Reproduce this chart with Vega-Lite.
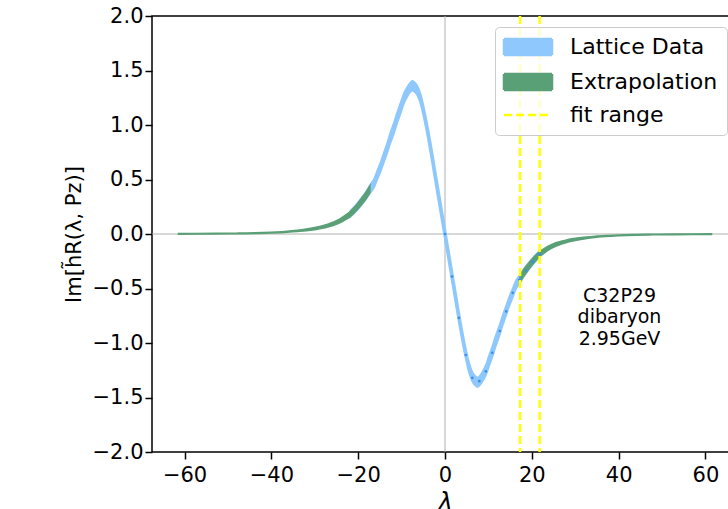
{
  "$schema": "https://vega.github.io/schema/vega-lite/v6.json",
  "width": 586,
  "height": 436,
  "autosize": {"type": "none"},
  "padding": {"left": 152, "top": 16, "right": 0, "bottom": 57},
  "background": "white",
  "config": {
    "view": {"stroke": "black", "strokeWidth": 1.5},
    "font": "DejaVu Sans",
    "axis": {
      "labelFont": "DejaVu Sans", "labelFontSize": 21, "labelColor": "black",
      "tickColor": "black", "tickWidth": 1.5, "tickSize": 7,
      "domain": false, "grid": false, "labelOverlap": false,
      "titleFont": "DejaVu Sans", "titleColor": "black", "titleFontWeight": "normal"
    }
  },
  "datasets": {
    "blue": [
      {"lam": -21.8, "lo": 0.155, "hi": 0.215}, {"lam": -21, "lo": 0.183, "hi": 0.247},
      {"lam": -20, "lo": 0.226, "hi": 0.294}, {"lam": -19, "lo": 0.274, "hi": 0.346},
      {"lam": -18, "lo": 0.327, "hi": 0.403}, {"lam": -17.3, "lo": 0.37, "hi": 0.45},
      {"lam": -16.3, "lo": 0.428, "hi": 0.512}, {"lam": -15.6, "lo": 0.496, "hi": 0.584},
      {"lam": -14.8, "lo": 0.574, "hi": 0.666}, {"lam": -14.1, "lo": 0.652, "hi": 0.748},
      {"lam": -13.3, "lo": 0.74, "hi": 0.84}, {"lam": -12.6, "lo": 0.828, "hi": 0.932},
      {"lam": -11.7, "lo": 0.927, "hi": 1.033}, {"lam": -10.9, "lo": 1.027, "hi": 1.133},
      {"lam": -10.1, "lo": 1.118, "hi": 1.222}, {"lam": -9.4, "lo": 1.2, "hi": 1.3},
      {"lam": -8.6, "lo": 1.263, "hi": 1.357}, {"lam": -7.9, "lo": 1.305, "hi": 1.395},
      {"lam": -7.5, "lo": 1.315, "hi": 1.405}, {"lam": -7.1, "lo": 1.305, "hi": 1.395},
      {"lam": -6.3, "lo": 1.264, "hi": 1.356}, {"lam": -5.5, "lo": 1.17, "hi": 1.27},
      {"lam": -4.8, "lo": 1.046, "hi": 1.154}, {"lam": -4, "lo": 0.882, "hi": 0.998},
      {"lam": -3.2, "lo": 0.698, "hi": 0.822}, {"lam": -2.4, "lo": 0.505, "hi": 0.635},
      {"lam": -1.6, "lo": 0.315, "hi": 0.445}, {"lam": -0.8, "lo": 0.125, "hi": 0.255},
      {"lam": 0, "lo": -0.065, "hi": 0.065},
      {"lam": 0.8, "lo": -0.255, "hi": -0.125}, {"lam": 1.6, "lo": -0.445, "hi": -0.315},
      {"lam": 2.4, "lo": -0.635, "hi": -0.505}, {"lam": 3.2, "lo": -0.822, "hi": -0.698},
      {"lam": 4, "lo": -0.998, "hi": -0.882}, {"lam": 4.8, "lo": -1.154, "hi": -1.046},
      {"lam": 5.5, "lo": -1.27, "hi": -1.17}, {"lam": 6.3, "lo": -1.356, "hi": -1.264},
      {"lam": 7.1, "lo": -1.395, "hi": -1.305}, {"lam": 7.5, "lo": -1.405, "hi": -1.315},
      {"lam": 7.9, "lo": -1.395, "hi": -1.305}, {"lam": 8.6, "lo": -1.357, "hi": -1.263},
      {"lam": 9.4, "lo": -1.3, "hi": -1.2}, {"lam": 10.1, "lo": -1.222, "hi": -1.118},
      {"lam": 10.9, "lo": -1.133, "hi": -1.027}, {"lam": 11.7, "lo": -1.033, "hi": -0.927},
      {"lam": 12.6, "lo": -0.932, "hi": -0.828}, {"lam": 13.3, "lo": -0.84, "hi": -0.74},
      {"lam": 14.1, "lo": -0.748, "hi": -0.652}, {"lam": 14.8, "lo": -0.666, "hi": -0.574},
      {"lam": 15.6, "lo": -0.584, "hi": -0.496}, {"lam": 16.3, "lo": -0.512, "hi": -0.428},
      {"lam": 17.3, "lo": -0.45, "hi": -0.37}, {"lam": 18, "lo": -0.403, "hi": -0.327},
      {"lam": 19, "lo": -0.346, "hi": -0.274}, {"lam": 20, "lo": -0.294, "hi": -0.226},
      {"lam": 21, "lo": -0.247, "hi": -0.183}, {"lam": 21.8, "lo": -0.215, "hi": -0.155}
    ],
    "green": [
      {"side": "left", "lam": -61.4, "lo": -0.002, "hi": 0.004},
      {"side": "left", "lam": -57, "lo": -0.001, "hi": 0.005},
      {"side": "left", "lam": -53, "lo": 0.0, "hi": 0.006},
      {"side": "left", "lam": -48, "lo": 0.002, "hi": 0.008},
      {"side": "left", "lam": -44, "lo": 0.005, "hi": 0.011},
      {"side": "left", "lam": -40, "lo": 0.009, "hi": 0.017},
      {"side": "left", "lam": -37, "lo": 0.014, "hi": 0.024},
      {"side": "left", "lam": -34, "lo": 0.023, "hi": 0.035},
      {"side": "left", "lam": -32, "lo": 0.030, "hi": 0.046},
      {"side": "left", "lam": -30, "lo": 0.040, "hi": 0.060},
      {"side": "left", "lam": -28, "lo": 0.054, "hi": 0.078},
      {"side": "left", "lam": -27, "lo": 0.064, "hi": 0.090},
      {"side": "left", "lam": -26, "lo": 0.075, "hi": 0.105},
      {"side": "left", "lam": -25, "lo": 0.088, "hi": 0.122},
      {"side": "left", "lam": -24, "lo": 0.106, "hi": 0.144},
      {"side": "left", "lam": -23, "lo": 0.129, "hi": 0.171},
      {"side": "left", "lam": -21.8, "lo": 0.161, "hi": 0.209},
      {"side": "left", "lam": -21, "lo": 0.190, "hi": 0.240},
      {"side": "left", "lam": -20, "lo": 0.233, "hi": 0.287},
      {"side": "left", "lam": -19, "lo": 0.281, "hi": 0.339},
      {"side": "left", "lam": -18, "lo": 0.334, "hi": 0.396},
      {"side": "left", "lam": -17.3, "lo": 0.378, "hi": 0.442},
      {"side": "right", "lam": 17.3, "lo": -0.442, "hi": -0.378},
      {"side": "right", "lam": 18, "lo": -0.396, "hi": -0.334},
      {"side": "right", "lam": 19, "lo": -0.339, "hi": -0.281},
      {"side": "right", "lam": 20, "lo": -0.287, "hi": -0.233},
      {"side": "right", "lam": 21, "lo": -0.240, "hi": -0.190},
      {"side": "right", "lam": 21.8, "lo": -0.209, "hi": -0.161},
      {"side": "right", "lam": 23, "lo": -0.171, "hi": -0.129},
      {"side": "right", "lam": 24, "lo": -0.144, "hi": -0.106},
      {"side": "right", "lam": 25, "lo": -0.122, "hi": -0.088},
      {"side": "right", "lam": 26, "lo": -0.105, "hi": -0.075},
      {"side": "right", "lam": 27, "lo": -0.090, "hi": -0.064},
      {"side": "right", "lam": 28, "lo": -0.078, "hi": -0.054},
      {"side": "right", "lam": 30, "lo": -0.060, "hi": -0.040},
      {"side": "right", "lam": 32, "lo": -0.046, "hi": -0.030},
      {"side": "right", "lam": 34, "lo": -0.035, "hi": -0.023},
      {"side": "right", "lam": 37, "lo": -0.024, "hi": -0.014},
      {"side": "right", "lam": 40, "lo": -0.017, "hi": -0.009},
      {"side": "right", "lam": 44, "lo": -0.011, "hi": -0.005},
      {"side": "right", "lam": 48, "lo": -0.008, "hi": -0.002},
      {"side": "right", "lam": 53, "lo": -0.006, "hi": 0.0},
      {"side": "right", "lam": 57, "lo": -0.005, "hi": 0.001},
      {"side": "right", "lam": 61.4, "lo": -0.004, "hi": 0.002}
    ],
    "dots": [
      {"lam": 0, "val": 0}, {"lam": 1.6, "val": -0.39}, {"lam": 3.2, "val": -0.77},
      {"lam": 4.8, "val": -1.11}, {"lam": 6.3, "val": -1.32}, {"lam": 7.9, "val": -1.35},
      {"lam": 9.4, "val": -1.26}, {"lam": 10.9, "val": -1.09}, {"lam": 12.6, "val": -0.89},
      {"lam": 14.1, "val": -0.71}, {"lam": 15.6, "val": -0.54}, {"lam": 17.1, "val": -0.42},
      {"lam": 18.7, "val": -0.335}, {"lam": 20.2, "val": -0.255}, {"lam": 21.8, "val": -0.185}
    ],
    "fit": [{"lam": 17.3}, {"lam": 21.8}],
    "label": [{"lam": 40.2, "val": -0.565, "text": "C32P29\ndibaryon\n2.95GeV"}]
  },
  "layer": [
    {
      "data": {"values": [{"val": 0}]},
      "mark": {"type": "rule", "color": "#b0b0b0", "strokeWidth": 1},
      "encoding": {
        "y": {"field": "val", "type": "quantitative", "scale": {"domain": [-2, 2], "nice": false, "zero": false},
          "axis": {"values": [-2, -1.5, -1, -0.5, 0, 0.5, 1, 1.5, 2], "format": ".1f", "labelPadding": 2, "title": "Im[h̃R(λ, Pz)]", "titleFontSize": 21, "titlePadding": 8}}
      }
    },
    {
      "data": {"values": [{"lam": 0}]},
      "mark": {"type": "rule", "color": "#b0b0b0", "strokeWidth": 1},
      "encoding": {
        "x": {"field": "lam", "type": "quantitative", "scale": {"domain": [-67.5, 67.5], "nice": false, "zero": false},
          "axis": {"values": [-60, -40, -20, 0, 20, 40, 60], "format": "d", "labelPadding": 5, "title": "λ", "titleFontSize": 24, "titleFontStyle": "italic", "titlePadding": 5}}
      }
    },
    {
      "data": {"name": "blue"},
      "mark": {"type": "area", "interpolate": "monotone", "opacity": 1, "stroke": "#8ec8fc", "strokeWidth": 1.5},
      "encoding": {
        "x": {"field": "lam", "type": "quantitative",
          "axis": {"values": [-60, -40, -20, 0, 20, 40, 60], "format": "d", "labelPadding": 5, "title": "λ", "titleFontSize": 24, "titleFontStyle": "italic", "titlePadding": 5}},
        "y": {"field": "lo", "type": "quantitative",
          "axis": {"values": [-2, -1.5, -1, -0.5, 0, 0.5, 1, 1.5, 2], "format": ".1f", "labelPadding": 2, "title": "Im[h̃R(λ, Pz)]", "titleFontSize": 21, "titlePadding": 8}},
        "y2": {"field": "hi"},
        "color": {"datum": "Lattice Data", "type": "nominal",
          "scale": {"domain": ["Lattice Data", "Extrapolation", "fit range"], "range": ["#8ec8fc", "#5aa077", "#ffff00"]},
          "legend": {
            "title": null, "orient": "top-right", "offset": 11, "padding": 9,
            "fillColor": "rgba(255,255,255,0.8)", "strokeColor": "#cccccc", "cornerRadius": 4,
            "labelFont": "DejaVu Sans", "labelFontSize": 22, "labelColor": "black",
            "symbolSize": 256, "symbolOffset": 13, "labelOffset": 31, "rowPadding": 9,
            "symbolType": {"expr": "datum.value === 'fit range' ? 'M-3,0H3' : 'M-3,-1H3V1H-3Z'"},
            "symbolStrokeColor": {"expr": "datum.value === 'fit range' ? '#ffff00' : 'transparent'"},
            "symbolStrokeWidth": 2.5,
            "symbolDash": {"expr": "datum.value === 'fit range' ? [8, 4] : [1, 0]"},
            "symbolOpacity": 1
          }}
      }
    },
    {
      "data": {"name": "green"},
      "mark": {"type": "area", "interpolate": "monotone", "opacity": 1, "stroke": "#5aa077", "strokeWidth": 1.5},
      "encoding": {
        "x": {"field": "lam", "type": "quantitative", "axis": {"values": [-60, -40, -20, 0, 20, 40, 60], "format": "d", "labelPadding": 5, "title": "λ", "titleFontSize": 24, "titleFontStyle": "italic", "titlePadding": 5}},
        "y": {"field": "lo", "type": "quantitative", "axis": {"values": [-2, -1.5, -1, -0.5, 0, 0.5, 1, 1.5, 2], "format": ".1f", "labelPadding": 2, "title": "Im[h̃R(λ, Pz)]", "titleFontSize": 21, "titlePadding": 8}},
        "y2": {"field": "hi"},
        "detail": {"field": "side"},
        "color": {"datum": "Extrapolation", "type": "nominal"}
      }
    },
    {
      "data": {"name": "dots"},
      "mark": {"type": "point", "filled": true, "size": 7, "opacity": 1, "color": "#3a8ee8"},
      "encoding": {
        "x": {"field": "lam", "type": "quantitative", "axis": {"values": [-60, -40, -20, 0, 20, 40, 60], "format": "d", "labelPadding": 5, "title": "λ", "titleFontSize": 24, "titleFontStyle": "italic", "titlePadding": 5}},
        "y": {"field": "val", "type": "quantitative", "axis": {"values": [-2, -1.5, -1, -0.5, 0, 0.5, 1, 1.5, 2], "format": ".1f", "labelPadding": 2, "title": "Im[h̃R(λ, Pz)]", "titleFontSize": 21, "titlePadding": 8}}
      }
    },
    {
      "data": {"name": "fit"},
      "mark": {"type": "rule", "strokeWidth": 2.5, "strokeDash": [8, 4]},
      "encoding": {
        "x": {"field": "lam", "type": "quantitative", "axis": {"values": [-60, -40, -20, 0, 20, 40, 60], "format": "d", "labelPadding": 5, "title": "λ", "titleFontSize": 24, "titleFontStyle": "italic", "titlePadding": 5}},
        "color": {"datum": "fit range", "type": "nominal"}
      }
    },
    {
      "data": {"name": "label"},
      "mark": {"type": "text", "fontSize": 19, "lineHeight": 21.5, "lineBreak": "\n", "align": "center", "baseline": "middle", "color": "black", "font": "DejaVu Sans"},
      "encoding": {
        "x": {"field": "lam", "type": "quantitative", "axis": {"values": [-60, -40, -20, 0, 20, 40, 60], "format": "d", "labelPadding": 5, "title": "λ", "titleFontSize": 24, "titleFontStyle": "italic", "titlePadding": 5}},
        "y": {"field": "val", "type": "quantitative", "axis": {"values": [-2, -1.5, -1, -0.5, 0, 0.5, 1, 1.5, 2], "format": ".1f", "labelPadding": 2, "title": "Im[h̃R(λ, Pz)]", "titleFontSize": 21, "titlePadding": 8}},
        "text": {"field": "text"}
      }
    }
  ]
}
